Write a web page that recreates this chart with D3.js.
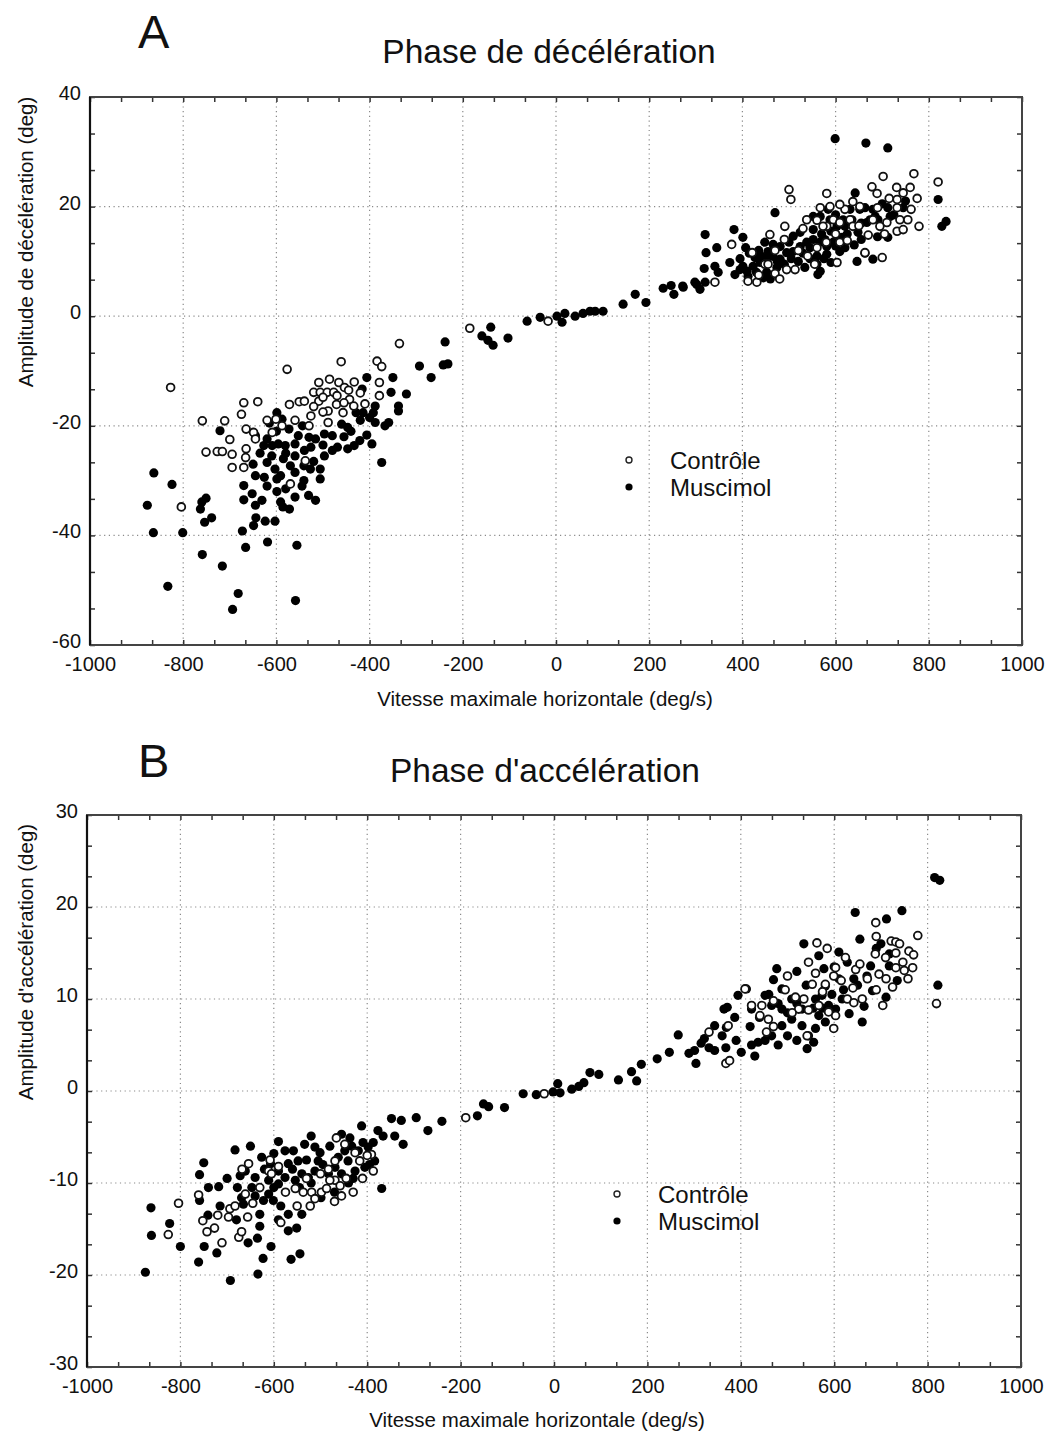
<!DOCTYPE html>
<html><head><meta charset="utf-8">
<script src="https://cdn.jsdelivr.net/npm/d3@7"></script>
<style>
body{margin:0;background:#fff;}
text{font-family:"Liberation Sans",Arial,sans-serif;fill:#111;}
</style></head>
<body>
<svg id="c" width="1050" height="1435"></svg>
<script>
// ---------- DATA ----------
const xTicks = [-1000,-800,-600,-400,-200,0,200,400,600,800,1000];
const yTicksA = [40,20,0,-20,-40,-60];
const yTicksB = [30,20,10,0,-10,-20,-30];
const seriesNames = ["Contrôle","Muscimol"];

// Panel A : Phase de décélération  [vitesse (deg/s), amplitude (deg)]
const decelControle = [
[-827,-13.0],[-577,-9.7],[-461,-8.3],[-384,-8.2],[-374,-9.2],[-336,-5.0],[-759,-19.1],[-711,-19.1],[-675,-17.9],[-670,-15.8],
[-640,-15.6],[-665,-20.6],[-649,-21.2],[-645,-22.4],[-751,-24.8],[-727,-24.7],[-716,-24.7],[-695,-25.2],[-695,-27.6],[-670,-27.6],
[-665,-24.2],[-666,-25.8],[-804,-34.8],[-609,-21.2],[-601,-18.8],[-588,-20.0],[-572,-16.1],[-551,-15.6],[-540,-15.5],[-526,-18.2],
[-520,-13.9],[-509,-12.1],[-506,-13.9],[-486,-11.5],[-491,-13.9],[-477,-13.9],[-466,-12.1],[-454,-13.0],[-433,-12.0],[-443,-15.2],
[-434,-16.4],[-489,-17.3],[-471,-16.1],[-457,-17.6],[-489,-19.4],[-379,-12.1],[-379,-14.5],[-538,-26.4],[-570,-30.6],[-509,-15.5],
[-500,-14.8],[-185,-2.2],[-17,-0.9],
[-520,-16.5],[-500,-17.5],[-530,-20.0],[-470,-14.5],[-455,-15.8],[-445,-13.5],[-420,-14.0],[-410,-16.0],[-560,-19.0],[-620,-19.0],[-700,-22.5],
[500,23.1],[504,21.3],[581,22.4],[491,16.4],[377,13.1],[421,11.6],[459,14.9],[412,6.4],[431,6.2],[495,8.5],[513,8.5],[603,9.8],
[663,11.6],[341,6.2],[538,17.6],[567,19.8],[595,17.6],[620,19.5],[678,23.6],[680,17.6],[581,16.4],
[702,25.5],[768,26.0],[689,22.4],[731,23.5],[760,23.5],[820,24.5],[732,21.3],[732,19.8],[738,17.6],[755,17.6],[732,15.5],[710,17.1],
[695,16.4],[762,19.5],[779,16.4],[700,10.7],[609,13.5],[573,16.4],[609,17.1],[631,17.6],[637,16.4],[588,20.0],[609,20.4],[637,20.9],
[652,20.0],[448,9.5],[470,7.8],[540,11.0],[560,12.5],
[435,7.5],[455,9.5],[480,6.8],[520,12.0],[555,9.5],[580,13.5],[625,13.8],[650,16.5],[690,19.8],[715,21.5],[745,22.5],[705,15.0],
[670,14.8],[600,15.0],[560,17.5],[530,16.0],[470,12.0],[490,14.0],[745,15.8],[775,21.5]
];
const decelMuscimol = [
[-877,-34.5],[-864,-39.5],[-863,-28.6],[-824,-30.7],[-833,-49.3],[-801,-39.5],[-760,-33.9],[-751,-33.2],[-763,-35.2],[-754,-37.6],
[-739,-36.8],[-759,-43.5],[-716,-45.6],[-721,-20.9],[-682,-50.6],[-694,-53.5],[-559,-51.9],[-556,-41.8],[-619,-41.2],[-673,-39.2],
[-666,-42.2],[-670,-30.9],[-670,-33.5],[-652,-32.4],[-645,-34.5],[-631,-33.6],[-644,-36.8],[-649,-38.2],[-624,-37.4],[-603,-37.4],
[-591,-33.9],[-586,-34.8],[-572,-35.2],[-560,-33.0],[-531,-32.7],[-516,-33.6],[-599,-32.0],[-645,-29.1],[-626,-29.4],[-599,-29.7],
[-599,-17.6],[-588,-18.8],[-573,-20.6],[-645,-21.8],[-620,-22.4],[-627,-23.6],[-609,-23.6],[-596,-23.3],[-581,-23.6],[-560,-23.3],
[-553,-21.8],[-544,-20.0],[-530,-22.1],[-516,-22.4],[-526,-23.9],[-497,-25.5],[-620,-26.7],[-603,-27.9],[-591,-29.1],[-570,-27.3],
[-541,-27.3],[-527,-27.9],[-506,-27.9],[-506,-29.7],[-541,-30.0],[-497,-21.5],[-480,-21.8],[-469,-23.9],[-447,-24.2],[-433,-23.6],
[-421,-22.7],[-406,-21.7],[-395,-23.3],[-388,-19.4],[-367,-20.0],[-359,-19.4],[-338,-17.3],[-338,-16.4],[-321,-14.2],[-350,-11.2],
[-354,-13.9],[-406,-11.2],[-416,-13.3],[-429,-17.6],[-414,-17.6],[-392,-17.6],[-388,-16.4],[-374,-26.7],[-293,-9.1],[-268,-11.2],
[-447,-20.3],[-460,-19.7],[-580,-25.0],[-610,-25.5],[-560,-28.5],
[-600,-21.0],[-615,-19.5],[-585,-26.0],[-560,-25.5],[-540,-24.5],[-520,-26.5],[-500,-23.5],[-480,-24.5],[-455,-22.0],[-440,-21.0],
[-420,-19.0],[-400,-18.5],[-635,-25.0],[-650,-27.0],[-620,-31.0],[-580,-31.5],[-545,-31.0],
[-238,-4.7],[-242,-8.9],[-232,-8.7],[-159,-3.6],[-140,-2.0],[-146,-4.4],[-135,-5.3],[-103,-4.0],[-62,-0.9],[-34,-0.2],[2,0],[19,0.5],
[13,-1.1],[41,0],[58,0.5],[73,0.9],[84,0.9],[101,0.9],[144,2.2],[170,4.0],[193,2.5],[230,5.1],[247,5.6],[253,4.0],[272,5.5],[302,5.8],
[599,32.4],[665,31.6],[470,18.9],[382,15.8],[320,14.9],[322,11.6],[345,12.5],[318,8.7],[341,9.1],[348,8.0],[401,14.4],[407,12.5],
[427,10.7],[448,13.5],[466,13.1],[481,12.7],[373,9.8],[384,7.6],[401,9.1],[410,8.2],[423,9.1],[438,9.8],[452,10.4],[466,10.9],
[481,10.4],[495,11.6],[509,11.8],[524,12.7],[538,13.5],[552,14.0],[567,13.5],[581,12.7],[595,13.5],[609,14.0],[412,7.3],[452,8.0],
[474,8.9],[534,8.9],[567,8.2],[562,7.6],[609,11.8],[646,10.0],[680,10.4],[320,6.2],[298,6.2],[309,4.9],[273,5.3],
[552,18.2],[584,19.5],[616,17.6],[631,19.5],[663,19.8],[667,17.1],[648,15.3],[603,16.4],[552,15.8],[524,15.3],[509,14.6],
[712,30.7],[820,21.3],[642,22.5],[680,19.5],[685,18.2],[674,17.6],[691,17.6],[712,19.8],[717,18.2],[745,19.8],[828,16.4],[837,17.3],
[712,14.4],[663,11.5],[581,11.3],[577,14.0],[614,14.4],[588,17.6],[652,19.5],[635,17.6],[620,16.4],[567,18.2],
[415,11.5],[435,12.0],[455,11.8],[475,10.0],[490,9.5],[505,10.5],[520,10.0],[545,10.5],[560,11.0],[575,10.5],[590,9.8],[620,12.5],
[640,13.0],[655,14.0],[625,15.0],[590,15.5],[545,12.5],[430,8.0],[445,7.0],[460,6.8],[395,10.5],[395,8.5],[440,11.0],[500,13.5],
[530,11.5],[560,9.5],[600,12.8],[690,14.5],[700,20.5],[725,18.5],[750,21.0],[655,17.0],[600,18.5],[570,15.0]
];

// Panel B : Phase d'accélération
const accelControle = [
[-804,-12.2],[-826,-15.6],[-761,-11.3],[-752,-14.1],[-743,-15.3],[-727,-14.9],[-711,-16.5],[-675,-15.9],[-669,-15.3],[-697,-13.7],
[-694,-12.8],[-683,-12.5],[-656,-13.7],[-645,-12.2],[-661,-11.2],[-668,-8.5],[-654,-7.9],[-608,-7.5],[-585,-14.3],[-554,-10.6],
[-537,-11.0],[-519,-11.0],[-512,-11.7],[-498,-11.0],[-487,-10.6],[-469,-9.7],[-458,-10.3],[-455,-11.4],[-480,-9.7],[-522,-12.5],
[-483,-8.5],[-469,-7.6],[-466,-5.1],[-448,-5.8],[-391,-6.9],[-387,-8.7],[-426,-6.7],[-416,-7.6],[-611,-8.7],[-590,-8.2],
[-630,-10.5],[-605,-9.0],[-575,-11.0],[-550,-12.5],[-530,-9.5],[-500,-9.0],[-470,-12.0],[-445,-9.5],[-430,-11.0],[-410,-9.5],
[-400,-7.0],[-720,-13.5],
[-189,-2.9],[-21,-0.3],[332,6.4],[368,3.0],
[563,16.1],[585,15.5],[545,14.0],[689,18.3],[779,16.9],[722,16.3],[732,16.2],[760,15.2],[688,14.9],[732,15.0],[747,14.0],[768,13.4],
[758,12.2],[725,11.3],[704,9.3],[660,10.0],[671,12.2],[646,13.2],[624,14.5],[603,13.4],[599,12.5],[581,11.6],[553,11.6],[535,10.0],
[524,8.9],[517,10.2],[628,10.0],[642,9.6],[603,8.2],[599,6.8],[588,8.6],[567,9.3],[542,6.0],[445,9.3],[423,9.3],[373,7.1],[376,3.3],
[819,9.5],[696,12.7],[711,12.2],[732,13.4],[750,13.1],[441,8.2],[459,7.8],[455,6.4],[409,11.1],
[470,9.8],[495,11.0],[510,8.5],[545,8.8],[575,10.8],[615,12.0],[640,11.2],[655,13.8],[690,11.0],[710,14.5],[740,16.0],[770,14.8],
[690,16.8],[470,7.0],[500,12.5],[560,12.8]
];
const accelMuscimol = [
[-875,-19.7],[-863,-12.7],[-862,-15.7],[-823,-14.4],[-800,-16.9],[-761,-18.6],[-759,-9.1],[-750,-7.8],[-759,-11.9],[-740,-10.5],
[-718,-10.4],[-741,-13.5],[-749,-16.9],[-722,-17.6],[-693,-20.6],[-634,-19.9],[-623,-18.2],[-606,-16.9],[-563,-18.3],[-544,-17.7],
[-630,-14.7],[-630,-13.4],[-683,-6.4],[-678,-10.5],[-669,-11.6],[-665,-12.3],[-647,-10.5],[-640,-11.4],[-622,-11.9],[-611,-11.2],
[-601,-11.9],[-569,-13.4],[-569,-15.2],[-551,-14.9],[-540,-13.4],[-626,-7.2],[-607,-7.9],[-590,-8.7],[-576,-6.5],[-558,-6.5],
[-569,-7.9],[-548,-7.6],[-534,-5.8],[-520,-4.9],[-512,-6.1],[-501,-6.7],[-505,-7.6],[-512,-8.7],[-526,-9.4],[-540,-9.0],[-554,-9.7],
[-576,-9.4],[-590,-10.1],[-611,-9.7],[-640,-9.4],[-661,-8.7],[-672,-9.2],[-499,-11.6],[-483,-9.0],[-469,-8.3],[-455,-9.0],[-462,-7.2],
[-448,-6.5],[-433,-6.0],[-419,-6.5],[-409,-5.6],[-398,-6.1],[-387,-5.6],[-455,-4.7],[-437,-5.1],[-412,-3.8],[-377,-4.3],[-348,-3.0],
[-327,-3.2],[-295,-2.9],[-270,-4.3],[-323,-5.8],[-341,-4.9],[-366,-4.9],[-384,-7.6],[-405,-8.3],[-426,-8.7],[-441,-7.6],[-369,-10.6],
[-600,-10.5],[-585,-12.5],[-620,-8.5],[-600,-6.8],[-590,-5.5],[-560,-8.5],[-545,-10.5],[-530,-7.5],[-520,-10.0],[-495,-8.0],
[-480,-6.0],[-470,-11.0],[-440,-10.0],[-430,-9.5],[-395,-8.0],[-650,-6.0],[-700,-9.5],[-715,-12.5],[-680,-14.0],[-655,-16.5],
[-635,-16.0],[-590,-14.0],
[-240,-3.3],[-164,-2.7],[-151,-1.4],[-140,-1.7],[-106,-1.8],[-66,-0.3],[-38,-0.4],[-2,-0.1],[13,-0.2],[8,0.8],[38,0.2],[53,0.5],
[64,0.9],[77,2.0],[96,1.8],[138,1.2],[166,2.1],[177,1.1],[187,2.9],[221,3.5],[247,4.2],[266,6.1],[289,4.1],[315,5.2],[332,4.7],
[364,8.9],[368,4.7],
[645,19.4],[712,18.7],[745,19.6],[822,11.5],[535,16.0],[567,14.7],[610,15.1],[477,13.3],[520,13.0],[470,12.1],[578,13.3],[678,13.6],
[718,14.9],[718,13.6],[628,14.0],[642,12.2],[682,10.9],[711,10.2],[664,9.2],[660,7.5],[632,8.4],[412,11.1],[394,10.4],[371,9.1],
[387,8.0],[369,6.9],[344,7.1],[322,5.7],[301,4.4],[304,3.0],[344,4.4],[401,4.2],[423,5.0],[437,5.3],[452,5.5],[466,6.0],[488,7.1],
[509,7.8],[531,7.1],[545,6.0],[556,5.3],[542,4.6],[560,6.8],[567,8.2],[581,7.5],[588,9.3],[603,8.9],[574,10.4],[509,10.0],[488,8.9],
[466,9.3],[452,10.4],[423,8.9],[488,11.1],[531,8.9],[617,10.0],[560,10.0],[581,11.4],[610,12.2],[815,23.2],[826,22.9],
[420,7.0],[440,8.0],[460,10.5],[480,9.5],[500,8.5],[520,9.5],[540,11.5],[555,9.0],[575,9.0],[595,10.5],[620,11.0],[650,11.5],
[670,12.5],[690,15.5],[700,16.0],[735,12.0],[500,6.0],[520,5.5],[480,5.0],[430,3.8],[390,5.5],[360,6.0],[600,13.5],[655,16.5]
];

// ---------- DRAW ----------
const svg = d3.select("#c");
const font = '"Liberation Sans", Arial, sans-serif';

function panel(cfg){
  const g = svg.append("g");
  const x = d3.scaleLinear().domain([-1000,1000]).range([cfg.left, cfg.right]);
  const y = d3.scaleLinear().domain([cfg.yTicks[cfg.yTicks.length-1], cfg.yTicks[0]]).range([cfg.bottom, cfg.top]);

  // gridlines (dotted)
  g.append("g").selectAll("line").data(xTicks.slice(1,-1)).join("line")
    .attr("x1",d=>x(d)).attr("x2",d=>x(d)).attr("y1",cfg.top).attr("y2",cfg.bottom)
    .attr("stroke","#8a8a8a").attr("stroke-width",1.2).attr("stroke-dasharray","1.2,3.5");
  g.append("g").selectAll("line").data(cfg.yTicks.slice(1,-1)).join("line")
    .attr("y1",d=>y(d)).attr("y2",d=>y(d)).attr("x1",cfg.left).attr("x2",cfg.right)
    .attr("stroke","#8a8a8a").attr("stroke-width",1.2).attr("stroke-dasharray","1.2,3.5");

  // minor inward ticks
  const xd = x.domain(), yd = y.domain();
  const xMinor = d3.range(xd[0], xd[1]+1e-6, 200/3);
  const yStep = (cfg.yTicks[0]-cfg.yTicks[1])/3;
  const yMinor = d3.range(yd[0], yd[1]+1e-6, yStep);
  const tk = (axis)=> axis.tickSizeInner(-5).tickSizeOuter(0).tickFormat("");
  const ax = [
    g.append("g").attr("transform",`translate(0,${cfg.bottom})`).call(tk(d3.axisBottom(x).tickValues(xMinor))),
    g.append("g").attr("transform",`translate(0,${cfg.top})`).call(tk(d3.axisTop(x).tickValues(xMinor))),
    g.append("g").attr("transform",`translate(${cfg.left},0)`).call(tk(d3.axisLeft(y).tickValues(yMinor))),
    g.append("g").attr("transform",`translate(${cfg.right},0)`).call(tk(d3.axisRight(y).tickValues(yMinor)))
  ];
  ax.forEach(a=>{a.select(".domain").remove(); a.selectAll("line").attr("stroke","#333").attr("stroke-width",1.5);});

  // frame
  g.append("rect").attr("x",cfg.left).attr("y",cfg.top)
    .attr("width",cfg.right-cfg.left).attr("height",cfg.bottom-cfg.top)
    .attr("fill","none").attr("stroke","#444").attr("stroke-width",2);
  g.append("line").attr("x1",cfg.left).attr("x2",cfg.left).attr("y1",cfg.top).attr("y2",cfg.bottom)
    .attr("stroke","#111").attr("stroke-width",2.2);

  // tick labels (plain hyphen minus like the reference)
  const fmt = d => String(d);
  const lx = g.append("g").attr("transform",`translate(0,${cfg.bottom})`)
    .call(d3.axisBottom(x).tickValues(xTicks).tickSize(0).tickPadding(10).tickFormat(fmt));
  lx.select(".domain").remove();
  lx.selectAll("text").attr("font-size",20).attr("font-family",font).attr("fill","#111").attr("dy","0.78em");
  const ly = g.append("g").attr("transform",`translate(${cfg.left},0)`)
    .call(d3.axisLeft(y).tickValues(cfg.yTicks).tickSize(0).tickPadding(9).tickFormat(fmt));
  ly.select(".domain").remove();
  ly.selectAll("text").attr("font-size",20).attr("font-family",font).attr("fill","#111").attr("dy","0.12em");

  // points
  g.append("g").selectAll("circle").data(cfg.mus).join("circle")
    .attr("cx",d=>x(d[0])).attr("cy",d=>y(d[1])).attr("r",4.6).attr("fill","#000");
  g.append("g").selectAll("circle").data(cfg.ctl).join("circle")
    .attr("cx",d=>x(d[0])).attr("cy",d=>y(d[1])).attr("r",3.9)
    .attr("fill","#fff").attr("stroke","#111").attr("stroke-width",1.8);

  // legend
  const lg = g.append("g");
  lg.append("circle").attr("cx",cfg.legX).attr("cy",cfg.legY).attr("r",3).attr("fill","#fff").attr("stroke","#222").attr("stroke-width",1.4);
  lg.append("circle").attr("cx",cfg.legX).attr("cy",cfg.legY+27).attr("r",3.6).attr("fill","#000");
  lg.append("text").attr("x",cfg.legX+41).attr("y",cfg.legY+9).attr("font-size",24).text(seriesNames[0]);
  lg.append("text").attr("x",cfg.legX+41).attr("y",cfg.legY+36).attr("font-size",24).text(seriesNames[1]);

  // titles / labels
  svg.append("text").attr("x",cfg.letterX).attr("y",cfg.letterY).attr("font-size",47).text(cfg.letter);
  svg.append("text").attr("x",cfg.titleX).attr("y",cfg.titleY).attr("text-anchor","middle").attr("font-size",33.5).text(cfg.title);
  svg.append("text").attr("x",cfg.xlabX).attr("y",cfg.xlabY).attr("text-anchor","middle").attr("font-size",20.5).text("Vitesse maximale horizontale (deg/s)");
  svg.append("text").attr("transform",`translate(${cfg.ylabX},${cfg.ylabY}) rotate(-90)`).attr("text-anchor","middle").attr("font-size",20.5).text(cfg.ylab);
}

panel({left:90,right:1022,top:97,bottom:645,yTicks:yTicksA,ctl:decelControle,mus:decelMuscimol,
  legX:629,legY:460,letter:"A",letterX:138,letterY:48,title:"Phase de décélération",titleX:549,titleY:63,
  xlabX:545,xlabY:706,ylab:"Amplitude de décélération (deg)",ylabX:33,ylabY:242});
panel({left:87,right:1021,top:815,bottom:1367,yTicks:yTicksB,ctl:accelControle,mus:accelMuscimol,
  legX:617,legY:1194,letter:"B",letterX:138,letterY:777,title:"Phase d'accélération",titleX:545,titleY:782,
  xlabX:537,xlabY:1427,ylab:"Amplitude d'accélération (deg)",ylabX:33,ylabY:962});
</script>
</body></html>
